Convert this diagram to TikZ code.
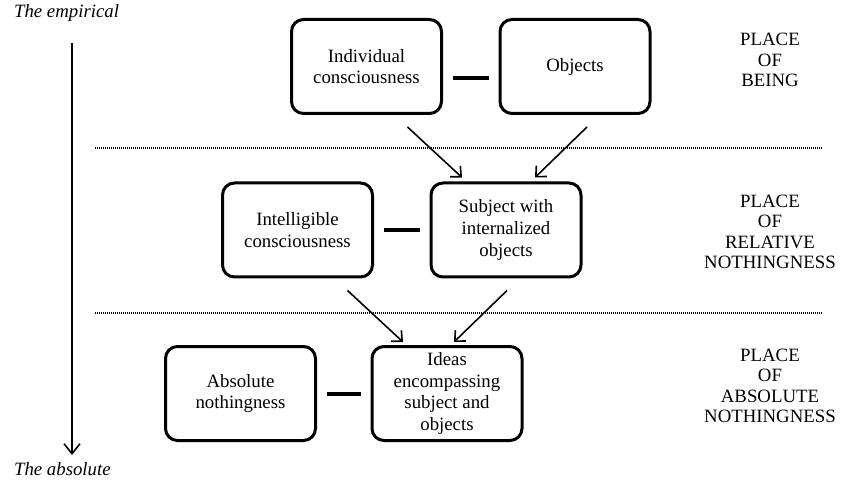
\documentclass[tikz,border=0pt]{standalone}
\usepackage{fontspec}
\setmainfont{Liberation Serif}
\usetikzlibrary{arrows.meta,calc}

\begin{document}
\begin{tikzpicture}[x=0.5pt,y=-0.5pt,font=\fontsize{9.4}{10.8}\selectfont,
  box/.style={draw,line width=1.5pt,rounded corners=6pt,minimum width=75pt,minimum height=47pt,align=center,inner sep=2pt},
  bar/.style={line width=2pt,shorten <=5pt,shorten >=5pt},
  arr/.style={line width=0.8pt,-{Straight Barb[length=4pt,width=7.5pt]}},
  sep/.style={line width=0.7pt,dash pattern=on 0.5pt off 0.5pt},
  place/.style={align=center,font=\fontsize{9.4}{10.2}\selectfont}]
  \useasboundingbox (0,0) rectangle (842,481);
  % left scale
  \node[anchor=base west,font=\fontsize{9.4}{10.8}\itshape] (empirical) at (7,18) {The empirical};
  \node[anchor=base west,font=\fontsize{9.4}{10.8}\itshape] (absolute) at (7,475) {The absolute};
  \coordinate (scaletop) at (72,43);
  \coordinate (scalebot) at (72,455);
  \draw[line width=0.8pt,-{Straight Barb[length=5pt,width=8pt]}] (scaletop) -- (scalebot);
  % separators
  \draw[sep] (95,148) -- (823,148);
  \draw[sep] (95,313) -- (823,313);
  % place of being
  \node[box] (indiv) at (366.5,66.5) {Individual\\consciousness};
  \node[box] (obj) at (575,66.5) {Objects};
  \draw[bar] ($(indiv.east)+(0,12)$) -- ($(obj.west)+(0,12)$);
  \node[place] (being) at (770,60) {PLACE\\OF\\BEING};
  % place of relative nothingness
  \node[box] (intel) at (297.5,230) {Intelligible\\consciousness};
  \node[box] (subj) at (506,230) {Subject with\\internalized\\objects};
  \draw[bar] (intel.east) -- (subj.west);
  \node[place] (relative) at (770,232) {PLACE\\OF\\RELATIVE\\NOTHINGNESS};
  \draw[arr] ($(indiv.south)+(41,12)$) -- ($(subj.north)+(-44,-4)$);
  \draw[arr] ($(obj.south)+(12,12)$) -- ($(subj.north)+(29,-4)$);
  % place of absolute nothingness
  \node[box] (absnot) at (240.5,393.5) {Absolute\\nothingness};
  \node[box] (ideas) at (447,393.5) {Ideas\\encompassing\\subject and\\objects};
  \draw[bar] (absnot.east) -- (ideas.west);
  \node[place] (absplace) at (770,386) {PLACE\\OF\\ABSOLUTE\\NOTHINGNESS};
  \draw[arr] ($(intel.south)+(50,12)$) -- ($(ideas.north)+(-44,-3)$);
  \draw[arr] ($(subj.south)+(1,12)$) -- ($(ideas.north)+(7,-3)$);
\end{tikzpicture}
\end{document}
